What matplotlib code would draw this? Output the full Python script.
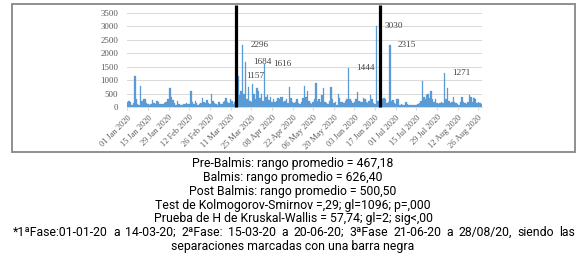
import numpy as np
import matplotlib
matplotlib.use("Agg")
import matplotlib.pyplot as plt
from matplotlib.patches import Rectangle

# ---------------- data ----------------
tick_labels = ["01 Jan 2020", "15 Jan 2020", "29 Jan 2020", "12 Feb 2020", "26 Feb 2020",
               "11 Mar 2020", "25 Mar 2020", "08 Apr 2020", "22 Apr 2020", "06 May 2020",
               "20 May 2020", "03 Jun 2020", "17 Jun 2020", "01 Jul 2020", "15 Jul 2020",
               "29 Jul 2020", "12 Aug 2020", "26 Aug 2020"]

phase1 = [200, 220, 180, 90, 150, 1150, 300, 120, 100, 780,
          250, 300, 320, 150, 120, 90, 110, 270, 150, 120,
          250, 200, 110, 130, 140, 150, 180, 320, 300, 700,
          400, 280, 150, 100, 220, 130, 80, 100, 130, 110,
          150, 140, 130, 600, 200, 120, 230, 150, 100, 130,
          160, 330, 200, 150, 260, 170, 120, 480, 250, 150,
          120, 100, 200, 130, 110, 180, 230, 360, 200, 150,
          300, 250, 120, 200]
phase2 = [250, 1157, 450, 600, 2296, 500, 1684, 300, 760, 250,
          200, 850, 500, 300, 720, 600, 350, 500, 250, 1616,
          400, 450, 280, 400, 200, 300, 180, 250, 350, 300,
          400, 380, 200, 250, 300, 150, 750, 350, 200, 150,
          180, 300, 150, 120, 200, 350, 780, 400, 620, 250,
          150, 130, 200, 300, 920, 250, 300, 200, 450, 700,
          200, 150, 120, 250, 750, 300, 150, 200, 100, 500,
          350, 200, 180, 150, 250, 300, 1444, 300, 250, 150,
          200, 300, 550, 250, 200, 180, 350, 300, 200, 150,
          250, 450, 300, 150, 120, 3030, 250, 200]
phase3 = [250, 300, 350, 300, 150, 200, 2315, 250, 280, 150,
          120, 300, 320, 100, 120, 90, 100, 200, 110, 90,
          80, 100, 90, 80, 100, 120, 150, 250, 990, 400,
          300, 450, 500, 350, 600, 300, 200, 300, 150, 120,
          150, 200, 150, 1271, 300, 700, 250, 150, 200, 400,
          200, 150, 120, 100, 200, 400, 200, 150, 120, 200,
          450, 400, 200, 350, 300, 150, 200, 150, 120]
values = phase1 + phase2 + phase3
labelled_days = [75, 78, 80, 93, 150, 169, 178, 215]
phase_breaks = [len(phase1) - 0.5, len(phase1) + len(phase2) - 0.5]

notes = ["Pre-Balmis: rango promedio = 467,18",
         "Balmis: rango promedio = 626,40",
         "Post Balmis: rango promedio = 500,50",
         "Test de Kolmogorov-Smirnov =,29; gl=1096; p=,000",
         "Prueba de H de Kruskal-Wallis = 57,74; gl=2; sig<,00"]
note_justified = ("*1ªFase:01-01-20 a 14-03-20; 2ªFase: 15-03-20 a 20-06-20; "
                  "3ªFase 21-06-20 a 28/08/20, siendo las")
note_last = "separaciones marcadas con una barra negra"

# ---------------- figure ----------------
W, H = 582, 270
fig = plt.figure(figsize=(W / 100, H / 100), dpi=100)

def fx(px):
    return px / W

def fy(py):
    return 1 - py / H

# outer frame
fig.patches.append(Rectangle((fx(12), fy(152)), fx(575) - fx(12), fy(4) - fy(152),
                             transform=fig.transFigure, fill=False,
                             edgecolor="#8f8f8f", lw=1.4))

ax = fig.add_axes([fx(126.7), fy(107.3), fx(482) - fx(126.7), fy(13) - fy(107.3)])
x = np.arange(len(values))
ax.bar(x, values, width=1.0, color="#5B9BD5", edgecolor="#5B9BD5", lw=0.2, zorder=2)
ax.set_xlim(-0.5, len(values) - 0.5)
ax.set_ylim(0, 3500)
ax.set_yticks(np.arange(0, 3501, 500))
ax.yaxis.grid(True, color="#D9D9D9", lw=0.7, zorder=0)
ax.set_axisbelow(True)
for s in ["left", "top", "right"]:
    ax.spines[s].set_visible(False)
ax.spines["bottom"].set_color("#D9D9D9")
ax.spines["bottom"].set_linewidth(0.7)
ax.tick_params(axis="y", length=0, pad=6, labelsize=6.4, labelcolor="#595959")
ax.set_xticks(np.arange(len(tick_labels)) * 14)
ax.set_xticklabels(tick_labels, rotation=45, ha="right", rotation_mode="anchor")
ax.tick_params(axis="x", length=2.5, color="#D9D9D9", pad=2, labelsize=6.0,
               labelcolor="#595959")
for lab in ax.get_xticklabels() + ax.get_yticklabels():
    lab.set_fontfamily("Liberation Serif")

for d in labelled_days:
    ax.annotate(str(values[d]), (d, values[d]), xytext=(12.5, 0),
                textcoords="offset points", ha="center", va="center",
                fontsize=6.6, family="Liberation Serif", color="#404040", zorder=5)

for b in phase_breaks:
    ax.plot([b, b], [0, 3800], color="black", lw=2.3, clip_on=False, zorder=6,
            solid_capstyle="butt")

# ---------------- notes ----------------
fam = "Roboto"
wt = "normal"
renderer = fig.canvas.get_renderer()
# fit the font size so the Kruskal-Wallis line is ~278 px wide
probe = fig.text(0, 0, notes[4], family=fam, fontsize=10, fontweight=wt)
fs = 10 * 278 / probe.get_window_extent(renderer).width
probe.remove()

y0, dy = 163.5, 13.85
cx = 293
for i, t in enumerate(notes):
    fig.text(fx(cx), fy(y0 + i * dy), t, ha="center", va="center",
             family=fam, fontsize=fs, fontweight=wt, color="black")

# justified line
words = note_justified.split(" ")
objs = [fig.text(0, fy(y0 + 5 * dy), w, ha="left", va="center", family=fam,
                 fontsize=fs, fontweight=wt, color="black") for w in words]
widths = [o.get_window_extent(renderer).width for o in objs]
x0, x1 = 13, 575
gap = (x1 - x0 - sum(widths)) / (len(words) - 1)
pos = x0
for o, w in zip(objs, widths):
    o.set_x(fx(pos))
    pos += w + gap

fig.text(fx(cx), fy(y0 + 6 * dy), note_last, ha="center", va="center",
         family=fam, fontsize=fs, fontweight=wt, color="black")

fig.savefig("out.png", dpi=100)
